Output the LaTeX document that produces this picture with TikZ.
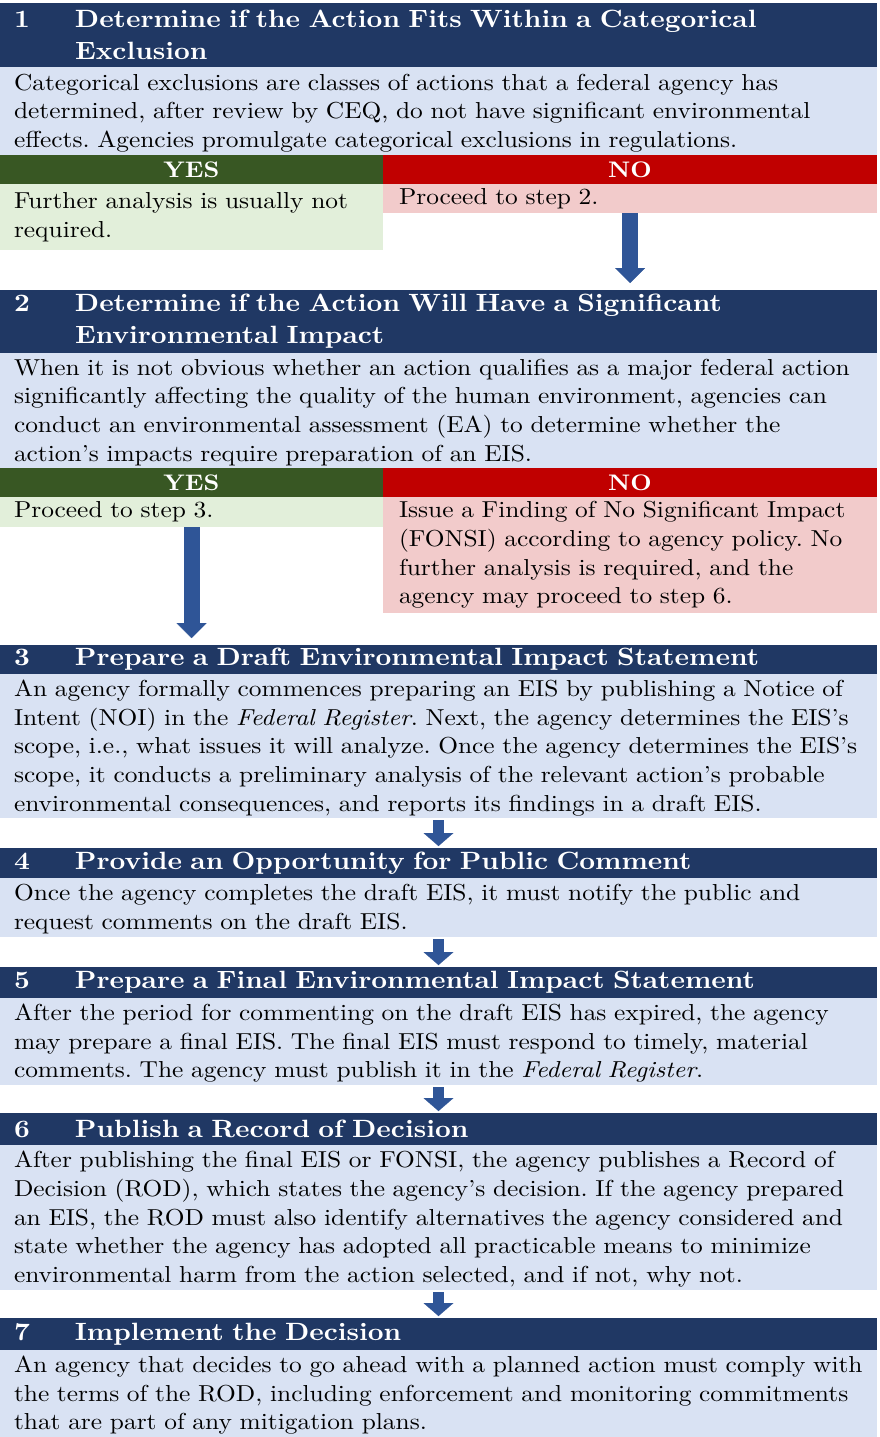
\documentclass[tikz,border=0pt]{standalone}
\usepackage{fontspec}
\setmainfont{lmroman10-regular.otf}[BoldFont=lmroman10-bold.otf, ItalicFont=lmroman10-italic.otf, BoldItalicFont=lmroman10-bolditalic.otf, FakeStretch=1.1]
\usetikzlibrary{positioning,arrows.meta}
\frenchspacing

\definecolor{navy}{HTML}{203864}
\definecolor{bodyblue}{HTML}{D9E2F3}
\definecolor{yesgreen}{HTML}{385723}
\definecolor{yeslight}{HTML}{E2EFDA}
\definecolor{nored}{HTML}{C00000}
\definecolor{nolight}{HTML}{F2CBCB}
\definecolor{arrowblue}{HTML}{2F5597}

\newcommand{\stepno}[1]{\makebox[61pt][l]{#1}}
\newcommand{\rows}[1]{\begin{tabular}[b]{@{}l@{}}#1\end{tabular}}

\tikzset{
  box/.style={anchor=north west, outer sep=0pt, inner xsep=14pt, inner ysep=0pt, align=left},
  header/.style={box, fill=navy, text=white, text width=849pt, font=\fontsize{25pt}{32pt}\selectfont\bfseries},
  body/.style={box, fill=bodyblue, text width=849pt, text depth=4.6pt, font=\fontsize{23.1pt}{28.7pt}\selectfont},
  yesbar/.style={box, fill=yesgreen, text=white, text width=355pt, minimum height=29pt, align=center, font=\fontsize{22.5pt}{24pt}\selectfont\bfseries},
  nobar/.style={yesbar, fill=nored, text width=466pt},
  yesbox/.style={box, fill=yeslight, text width=355pt, font=\fontsize{23.1pt}{28.7pt}\selectfont},
  nobox/.style={yesbox, fill=nolight, inner xsep=16pt, text width=462pt},
  bigarrow/.style={arrowblue, line width=16pt, -{Triangle[width=30pt, length=15pt, line width=0.01pt]}, shorten >=7pt},
  smallarrow/.style={arrowblue, line width=11pt, -{Triangle[width=30pt, length=13pt, line width=0.01pt]}, shorten <=2pt, shorten >=2pt}
}

\begin{document}
\begin{tikzpicture}[x=1pt, y=-1pt]
  \useasboundingbox (0,0) rectangle (879,1437);
  % step 1
  \node[header, minimum height=64pt] (h1) at (0,3) {\stepno{1}Determine if the Action Fits Within a Categorical\\\stepno{}Exclusion};
  \node[body, minimum height=88pt, below=0pt of h1] (b1) {\rows{Categorical exclusions are classes of actions that a federal agency has\\
    determined, after review by CEQ, do not have significant environmental\\
    effects. Agencies promulgate categorical exclusions in regulations.}};
  \node[yesbar, below=0pt of b1.south west, anchor=north west] (y1) {YES};
  \node[nobar, right=0pt of y1] (n1) {NO};
  \node[yesbox, minimum height=66pt, below=0pt of y1] (ys1) {\rows{Further analysis is usually not\\ required.}};
  \node[nobox, minimum height=29pt, below=0pt of n1] (no1) {\rows{Proceed to step 2.}};

  % step 2
  \node[header, minimum height=63pt, below=40pt of ys1.south west, anchor=north west] (h2) {\stepno{2}Determine if the Action Will Have a Significant\\\stepno{}Environmental Impact};
  \node[body, minimum height=115pt, below=0pt of h2] (b2) {\rows{When it is not obvious whether an action qualifies as a major federal action\\
    significantly affecting the quality of the human environment, agencies can\\
    conduct an environmental assessment (EA) to determine whether the\\
    action’s impacts require preparation of an EIS.}};
  \node[yesbar, below=0pt of b2.south west, anchor=north west] (y2) {YES};
  \node[nobar, right=0pt of y2] (n2) {NO};
  \node[yesbox, minimum height=30pt, below=0pt of y2] (ys2) {\rows{Proceed to step 3.}};
  \node[nobox, minimum height=116pt, below=0pt of n2] (no2) {\rows{Issue a Finding of No Significant Impact\\
    (FONSI) according to agency policy. No\\
    further analysis is required, and the\\
    agency may proceed to step 6.}};
  \draw[bigarrow] (no1.south) -- (no1.south |- h2.north);

  % step 3
  \node[header, minimum height=29pt, below=118pt of ys2.south west, anchor=north west] (h3) {\stepno{3}Prepare a Draft Environmental Impact Statement};
  \node[body, minimum height=144pt, below=0pt of h3] (b3) {\rows{An agency formally commences preparing an EIS by publishing a Notice of\\
    Intent (NOI) in the \emph{Federal Register}. Next, the agency determines the EIS’s\\
    scope, i.e., what issues it will analyze. Once the agency determines the EIS’s\\
    scope, it conducts a preliminary analysis of the relevant action’s probable\\
    environmental consequences, and reports its findings in a draft EIS.}};
  \draw[bigarrow] (ys2.south) -- (ys2.south |- h3.north);

  % step 4
  \node[header, minimum height=30pt, below=30pt of b3] (h4) {\stepno{4}Provide an Opportunity for Public Comment};
  \node[body, minimum height=59pt, below=0pt of h4] (b4) {\rows{Once the agency completes the draft EIS, it must notify the public and\\
    request comments on the draft EIS.}};
  \draw[smallarrow] (b3) -- (h4);

  % step 5
  \node[header, minimum height=31pt, below=30pt of b4] (h5) {\stepno{5}Prepare a Final Environmental Impact Statement};
  \node[body, minimum height=87pt, below=0pt of h5] (b5) {\rows{After the period for commenting on the draft EIS has expired, the agency\\
    may prepare a final EIS. The final EIS must respond to timely, material\\
    comments. The agency must publish it in the \emph{Federal Register}.}};
  \draw[smallarrow] (b4) -- (h5);

  % step 6
  \node[header, minimum height=32pt, below=28pt of b5] (h6) {\stepno{6}Publish a Record of Decision};
  \node[body, minimum height=145pt, below=0pt of h6] (b6) {\rows{After publishing the final EIS or FONSI, the agency publishes a Record of\\
    Decision (ROD), which states the agency’s decision. If the agency prepared\\
    an EIS, the ROD must also identify alternatives the agency considered and\\
    state whether the agency has adopted all practicable means to minimize\\
    environmental harm from the action selected, and if not, why not.}};
  \draw[smallarrow] (b5) -- (h6);

  % step 7
  \node[header, minimum height=32pt, below=28pt of b6] (h7) {\stepno{7}Implement the Decision};
  \node[body, minimum height=87pt, below=0pt of h7] (b7) {\rows{An agency that decides to go ahead with a planned action must comply with\\
    the terms of the ROD, including enforcement and monitoring commitments\\
    that are part of any mitigation plans.}};
  \draw[smallarrow] (b6) -- (h7);
\end{tikzpicture}
\end{document}
